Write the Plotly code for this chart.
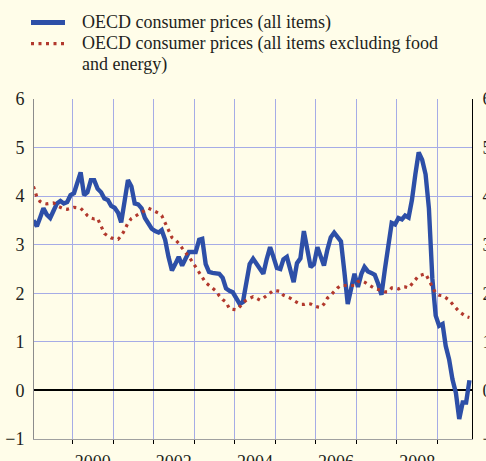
import plotly.graph_objects as go
import pandas as pd

# OECD consumer prices, % change year-on-year, monthly from Jan 1999
headline = [
    3.50, 3.38, 3.55, 3.75, 3.62, 3.55, 3.70, 3.85, 3.90, 3.85, 3.88, 4.02,   # 1999
    4.06, 4.25, 4.49, 4.02, 4.08, 4.33, 4.33, 4.15, 4.08, 3.95, 3.92, 3.80,   # 2000
    3.76, 3.66, 3.46, 3.90, 4.33, 4.20, 3.85, 3.83, 3.75, 3.55, 3.42, 3.33,   # 2001
    3.28, 3.25, 3.30, 3.10, 2.75, 2.47, 2.60, 2.75, 2.57, 2.72, 2.85, 2.85,   # 2002
    2.85, 3.10, 3.12, 2.60, 2.44, 2.42, 2.42, 2.40, 2.32, 2.10, 2.05, 2.02,   # 2003
    1.90, 1.78, 1.82, 2.20, 2.60, 2.71, 2.60, 2.50, 2.40, 2.70, 2.95, 2.75,   # 2004
    2.52, 2.50, 2.70, 2.75, 2.45, 2.23, 2.62, 2.72, 3.28, 2.85, 2.54, 2.60,   # 2005
    2.95, 2.75, 2.57, 2.90, 3.15, 3.25, 3.15, 3.07, 2.44, 1.78, 2.10, 2.40,   # 2006
    2.13, 2.40, 2.54, 2.45, 2.42, 2.38, 2.20, 1.97, 2.50, 3.00, 3.45, 3.42,   # 2007
    3.55, 3.52, 3.60, 3.56, 3.92, 4.45, 4.90, 4.75, 4.45, 3.75, 2.30, 1.54,   # 2008
    1.33, 1.37, 0.92, 0.64, 0.23, -0.05, -0.59, -0.25, -0.25, 0.21,           # 2009
]
core = [
    4.20, 3.98, 3.89, 3.85, 3.84, 3.85, 3.86, 3.80, 3.76, 3.74, 3.73, 3.75,   # 1999
    3.77, 3.76, 3.75, 3.68, 3.60, 3.55, 3.53, 3.54, 3.40, 3.23, 3.18, 3.14,   # 2000
    3.12, 3.11, 3.18, 3.30, 3.45, 3.54, 3.58, 3.62, 3.66, 3.70, 3.75, 3.72,   # 2001
    3.69, 3.65, 3.60, 3.45, 3.32, 3.15, 3.10, 3.03, 2.93, 2.85, 2.75, 2.65,   # 2002
    2.53, 2.44, 2.33, 2.22, 2.17, 2.10, 2.05, 1.95, 1.87, 1.82, 1.68, 1.67,   # 2003
    1.66, 1.72, 1.80, 1.86, 1.90, 1.93, 1.90, 1.86, 1.90, 1.95, 2.01, 2.06,   # 2004
    2.05, 2.04, 1.96, 1.93, 1.90, 1.85, 1.81, 1.77, 1.77, 1.79, 1.78, 1.74,   # 2005
    1.72, 1.71, 1.78, 1.90, 1.96, 2.04, 2.11, 2.16, 2.16, 2.16, 2.16, 2.16,   # 2006
    2.24, 2.26, 2.23, 2.19, 2.14, 2.10, 2.08, 2.06, 2.03, 2.03, 2.11, 2.11,   # 2007
    2.09, 2.13, 2.13, 2.11, 2.20, 2.28, 2.36, 2.38, 2.40, 2.27, 2.14, 2.00,   # 2008
    1.96, 1.95, 1.91, 1.86, 1.78, 1.70, 1.62, 1.57, 1.52, 1.50,               # 2009
]
year_labels = ["2000", "2002", "2004", "2006", "2008"]
grid_years = list(range(2000, 2010))
y_ticks = [-1, 0, 1, 2, 3, 4, 5, 6]

names = ["OECD consumer prices (all items)",
         "OECD consumer prices (all items excluding food",
         "and energy)"]

months = pd.date_range("1999-01-01", periods=len(headline), freq="MS") + pd.Timedelta(days=14)

BG = "#FFFDE9"
GRID = "#A6ACE6"
BLUE = "#2D4FA7"
RED = "#B2392D"
TXT = "#231F20"
FONT = "Liberation Serif"

W, H = 486, 461
ML, MR, MT, MB = 34, 14, 99, 22
PW, PH = W - ML - MR, H - MT - MB


def px(x):
    return (x - ML) / PW


def py(y):
    return (H - MB - y) / PH


fig = go.Figure()
fig.add_trace(go.Scatter(x=months, y=headline, mode="lines", name=names[0],
                         line=dict(color=BLUE, width=4.4), xaxis="x", yaxis="y"))
fig.add_trace(go.Scatter(x=months, y=core, mode="lines", name=names[1] + " " + names[2],
                         line=dict(color=RED, width=3.2, dash="3px,4.5px"),
                         xaxis="x", yaxis="y2"))

# legend (drawn manually to match the original placement)
shapes = [
    dict(type="line", xref="paper", yref="paper", x0=px(31), x1=px(65), y0=py(22.5), y1=py(22.5),
         line=dict(color=BLUE, width=5)),
    dict(type="line", xref="paper", yref="paper", x0=px(31), x1=px(66), y0=py(43.7), y1=py(43.7),
         line=dict(color=RED, width=3.2, dash="3px,4.5px")),
]
annotations = [
    dict(text=names[0], x=px(80), y=py(22.5), xref="paper", yref="paper",
         xanchor="left", yanchor="middle", showarrow=False, font=dict(family=FONT, size=18, color=TXT)),
    dict(text=names[1], x=px(80), y=py(43.8), xref="paper", yref="paper",
         xanchor="left", yanchor="middle", showarrow=False, font=dict(family=FONT, size=18, color=TXT)),
    dict(text=names[2], x=px(80), y=py(64.8), xref="paper", yref="paper",
         xanchor="left", yanchor="middle", showarrow=False, font=dict(family=FONT, size=18, color=TXT)),
]

fig.update_layout(
    width=W, height=H,
    margin=dict(l=ML, r=MR, t=MT, b=MB, pad=0, autoexpand=False),
    paper_bgcolor=BG, plot_bgcolor=BG,
    showlegend=False,
    shapes=shapes, annotations=annotations,
    xaxis=dict(
        type="date", range=["1999-01-20", "2009-11-07"], automargin=False,
        tickmode="array", tickvals=[f"{y}-07-02" for y in year_labels], ticktext=year_labels,
        ticks="", showgrid=False, zeroline=False, ticklabelstandoff=6,
        showline=True, linecolor="#A0A0A0", linewidth=1,
        tickfont=dict(family=FONT, size=18, color=TXT),
        minor=dict(tickmode="array", tickvals=[f"{y}-01-01" for y in grid_years],
                   showgrid=True, gridcolor=GRID, gridwidth=1,
                   ticks="outside", ticklen=4, tickcolor="black", tickwidth=1),
    ),
    yaxis=dict(
        range=[-1, 6], tickmode="array", tickvals=y_ticks, automargin=False,
        showgrid=True, gridcolor=GRID, gridwidth=1,
        zeroline=True, zerolinecolor="black", zerolinewidth=2,
        showline=True, linecolor="#8C8C8C", linewidth=1,
        ticks="", ticklabelstandoff=5,
        tickfont=dict(family=FONT, size=18, color=TXT),
    ),
    yaxis2=dict(
        range=[-1, 6], overlaying="y", side="right", tickmode="array", tickvals=y_ticks,
        automargin=False,
        showgrid=False, zeroline=False,
        showline=True, linecolor="black", linewidth=1,
        ticks="", ticklabelstandoff=6,
        tickfont=dict(family=FONT, size=18, color=TXT),
    ),
)

fig.write_html(
    "out.html",
    config={"displayModeBar": False, "staticPlot": True},
    post_script="document.body.style.margin='0';document.body.style.overflow='hidden';"
                f"document.body.style.background='{BG}';",
)
